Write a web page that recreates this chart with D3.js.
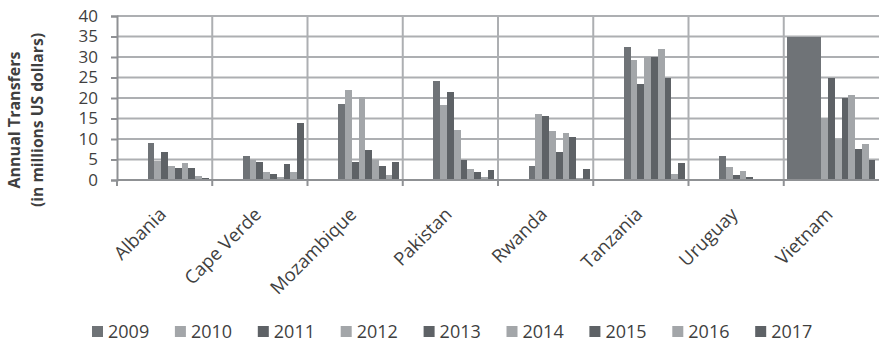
<!DOCTYPE html>
<html>
<head>
<meta charset="utf-8">
<script src="https://cdn.jsdelivr.net/npm/d3@7"></script>
<style>
  html, body { margin: 0; padding: 0; background: #ffffff; }
  svg { display: block; }
  text { font-family: "Open Sans", "Liberation Sans", sans-serif; fill: #3f3f3f; }
</style>
</head>
<body>
<svg id="chart" width="879" height="342"></svg>
<script>
// Countries along the x axis
const countries = ["Albania", "Cape Verde", "Mozambique", "Pakistan", "Rwanda",
                   "Tanzania", "Uruguay", "Vietnam"];

// Bar slots inside each country group: 2005-2008 only hold Vietnam's earlier totals
const years = ["2005", "2006", "2007", "2008", "2009", "2010", "2011", "2012",
               "2013", "2014", "2015", "2016", "2017"];
const legendYears = ["2009", "2010", "2011", "2012", "2013", "2014", "2015", "2016", "2017"];

// Annual transfers (millions US$), one array per year, in country order
const v2005 = [null, null, null, null, null, null, null, 35];
const v2006 = [null, null, null, null, null, null, null, 35];
const v2007 = [null, null, null, null, null, null, null, 35];
const v2008 = [null, null, null, null, null, null, null, 35];
const v2009 = [9.0, 5.8, 18.5, 24.1, 3.3, 32.4, 5.9, 35];
const v2010 = [4.6, 4.9, 22.0, 18.2, 16.0, 29.2, 3.1, 15.2];
const v2011 = [6.8, 4.3, 4.3, 21.4, 15.5, 23.5, 1.1, 25.0];
const v2012 = [3.3, 1.9, 20.2, 12.2, 11.9, 30.0, 2.1, 10.1];
const v2013 = [3.0, 1.5, 7.4, 5.0, 6.9, 30.0, 0.8, 19.9];
const v2014 = [4.1, 0.7, 5.0, 2.8, 11.4, 31.9, 0.3, 20.7];
const v2015 = [3.0, 3.8, 3.3, 2.0, 10.5, 25.0, 0.3, 7.6];
const v2016 = [1.0, 2.0, 1.3, 0.7, 0.5, 1.5, 0.2, 8.9];
const v2017 = [0.5, 13.9, 4.3, 2.5, 2.8, 4.1, 0.1, 5.0];

const yTicks = [0, 5, 10, 15, 20, 25, 30, 35, 40];

const seriesValues = [v2005, v2006, v2007, v2008, v2009, v2010, v2011, v2012,
                      v2013, v2014, v2015, v2016, v2017];

// Three grey tones: first tone for 2009 (and earlier), then light / dark alternating
const medium = "#6f7377", light = "#a3a6a9", dark = "#5e6266";
const color = d3.scaleOrdinal()
  .domain(years)
  .range([medium, medium, medium, medium, medium,
          light, dark, light, dark, light, dark, light, dark]);

const svg = d3.select("#chart");
const plot = { left: 117, right: 879, top: 16, bottom: 180 };

const x0 = d3.scaleBand().domain(countries).range([plot.left, plot.right]).padding(0);
const groupPad = 3.6;
const x1 = d3.scaleBand().domain(years)
  .range([groupPad, x0.bandwidth() - groupPad]).padding(0);
const y = d3.scaleLinear().domain([0, 40]).range([plot.bottom, plot.top]);

const gridColor = "#adafb2";
const axisColor = "#8f9194";

// Horizontal gridlines
svg.append("g")
  .selectAll("line")
  .data(yTicks.filter(t => t > 0))
  .join("line")
  .attr("x1", plot.left).attr("x2", plot.right)
  .attr("y1", d => y(d)).attr("y2", d => y(d))
  .attr("stroke", gridColor).attr("stroke-width", 2);

// Vertical gridlines at the group boundaries
svg.append("g")
  .selectAll("line")
  .data(countries.slice(1))
  .join("line")
  .attr("x1", d => x0(d)).attr("x2", d => x0(d))
  .attr("y1", plot.top).attr("y2", plot.bottom)
  .attr("stroke", gridColor).attr("stroke-width", 2);

// Bars
const bars = [];
countries.forEach((c, ci) => {
  years.forEach((yr, si) => {
    const v = seriesValues[si][ci];
    if (v != null) bars.push({ country: c, year: yr, value: v });
  });
});

svg.append("g")
  .attr("shape-rendering", "crispEdges")
  .selectAll("rect")
  .data(bars)
  .join("rect")
  .attr("x", d => x0(d.country) + x1(d.year))
  .attr("width", x1.bandwidth())
  .attr("y", d => y(d.value))
  .attr("height", d => y(0) - y(d.value))
  .attr("fill", d => color(d.year));

// Y axis
const yAxis = svg.append("g")
  .attr("transform", `translate(${plot.left},0)`)
  .call(d3.axisLeft(y).tickValues(yTicks).tickSize(6).tickPadding(13));
yAxis.select(".domain").attr("stroke", axisColor).attr("stroke-width", 2);
yAxis.selectAll(".tick line").attr("stroke", axisColor).attr("stroke-width", 2);
yAxis.selectAll(".tick text")
  .attr("font-size", 17)
  .attr("fill", "#3f3f3f")
  .style("font-family", '"Open Sans", sans-serif');

// X axis: baseline with tick marks on the group boundaries
const xAxis = svg.append("g");
xAxis.append("line")
  .attr("x1", plot.left).attr("x2", plot.right)
  .attr("y1", plot.bottom).attr("y2", plot.bottom)
  .attr("stroke", axisColor).attr("stroke-width", 2);
xAxis.selectAll("line.tick")
  .data(countries)
  .join("line")
  .attr("class", "tick")
  .attr("x1", d => x0(d)).attr("x2", d => x0(d))
  .attr("y1", plot.bottom).attr("y2", plot.bottom + 6)
  .attr("stroke", axisColor).attr("stroke-width", 2);

// Rotated category labels
xAxis.selectAll("text")
  .data(countries)
  .join("text")
  .attr("transform", d => `translate(${x0(d) + x0.bandwidth() / 2 - 2},${plot.bottom + 31}) rotate(-45)`)
  .attr("text-anchor", "end")
  .attr("dy", "0.35em")
  .attr("font-size", 18.5)
  .text(d => d);

// Y axis title, two lines
const title = svg.append("text")
  .attr("transform", "translate(22,120) rotate(-90)")
  .attr("text-anchor", "middle")
  .attr("font-size", 15.5)
  .attr("font-weight", "bold");
title.append("tspan").attr("x", 0).attr("y", -2)
  .attr("textLength", 137).attr("lengthAdjust", "spacingAndGlyphs")
  .text("Annual Transfers");
title.append("tspan").attr("x", 0).attr("y", 21)
  .attr("textLength", 174).attr("lengthAdjust", "spacingAndGlyphs")
  .text("(in millions US dollars)");

// Legend
const legend = svg.append("g")
  .selectAll("g")
  .data(legendYears)
  .join("g")
  .attr("transform", (d, i) => `translate(${92 + i * 82.9},331.5)`);
legend.append("rect")
  .attr("x", 0).attr("y", -5.5)
  .attr("width", 11).attr("height", 11)
  .attr("fill", d => color(d));
legend.append("text")
  .attr("x", 16).attr("y", 0)
  .attr("dy", "0.35em")
  .attr("font-size", 18)
  .text(d => d);
</script>
</body>
</html>
